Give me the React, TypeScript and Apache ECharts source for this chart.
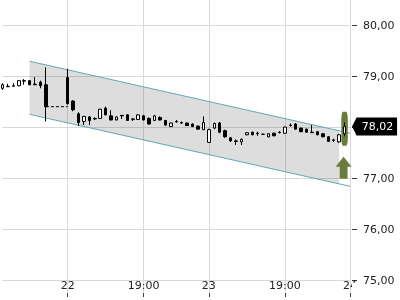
import React, { useEffect, useRef } from 'react';
import * as echarts from 'echarts';

// ---- data ----
const slotCount = 65;
const categories: string[] = Array.from({ length: slotCount }, (_, i) => String(i));
const xTickIndex = [12, 26, 38, 52, 64];
const xTickLabels = ['22', '19:00', '23', '19:00', '24'];

const candleIndex = [0, 1, 2, 3, 4, 5, 6, 7, 8, 12, 13, 14, 15, 16, 17, 18, 19, 20, 21, 22, 23, 24, 25, 26, 27, 28, 29, 30, 31, 32, 33, 34, 35, 36, 37, 38, 39, 40, 41, 42, 43, 44, 45, 46, 47, 48, 49, 50, 51, 52, 53, 54, 55, 56, 57, 58, 59, 60, 61, 62, 63];
const opens = [78.77, 78.80, 78.81, 78.82, 78.91, 78.92, 78.85, 78.89, 78.84, 78.98, 78.52, 78.27, 78.12, 78.21, 78.17, 78.18, 78.38, 78.23, 78.15, 78.24, 78.25, 78.16, 78.16, 78.23, 78.18, 78.14, 78.20, 78.14, 78.02, 78.11, 78.09, 78.09, 78.07, 78.03, 77.96, 77.71, 77.99, 78.09, 77.94, 77.80, 77.74, 77.72, 77.86, 77.91, 77.88, 77.87, 77.82, 77.89, 77.90, 77.89, 78.04, 78.07, 77.99, 77.97, 77.91, 77.92, 77.88, 77.82, 77.75, 77.72, 77.88];
const closes = [78.84, 78.81, 78.82, 78.92, 78.92, 78.84, 78.84, 78.82, 78.41, 78.47, 78.35, 78.10, 78.22, 78.14, 78.18, 78.36, 78.25, 78.15, 78.21, 78.23, 78.14, 78.17, 78.25, 78.15, 78.07, 78.23, 78.15, 78.05, 78.09, 78.12, 78.10, 78.04, 78.02, 77.97, 78.10, 77.96, 78.08, 77.91, 77.82, 77.74, 77.73, 77.77, 77.90, 77.86, 77.89, 77.87, 77.88, 77.84, 77.91, 78.01, 78.05, 77.97, 77.92, 77.91, 77.90, 77.86, 77.82, 77.73, 77.76, 77.86, 78.02];
const lows = [78.74, 78.80, 78.81, 78.81, 78.84, 78.83, 78.83, 78.77, 78.12, 78.45, 78.32, 78.03, 78.05, 78.05, 78.15, 78.17, 78.24, 78.14, 78.14, 78.17, 78.13, 78.13, 78.15, 78.14, 78.06, 78.13, 78.14, 78.03, 78.01, 78.10, 78.07, 78.03, 78.01, 77.96, 77.95, 77.70, 77.97, 77.89, 77.80, 77.72, 77.66, 77.66, 77.85, 77.85, 77.84, 77.86, 77.81, 77.83, 77.89, 77.88, 78.02, 77.96, 77.91, 77.90, 77.90, 77.85, 77.81, 77.72, 77.72, 77.70, 77.83];
const highs = [78.87, 78.86, 78.87, 78.93, 78.95, 78.93, 78.99, 78.92, 79.18, 79.15, 78.54, 78.30, 78.23, 78.23, 78.20, 78.37, 78.41, 78.34, 78.22, 78.25, 78.26, 78.19, 78.26, 78.25, 78.20, 78.25, 78.22, 78.15, 78.10, 78.15, 78.12, 78.10, 78.08, 78.04, 78.22, 77.98, 78.10, 78.11, 77.96, 77.82, 77.77, 77.79, 77.91, 77.92, 77.92, 77.88, 77.89, 77.90, 77.93, 78.02, 78.08, 78.09, 78.00, 77.98, 78.05, 77.93, 77.89, 77.83, 77.78, 77.88, 78.10];

// previous close gap line
const gapLineIndex = [8, 12];
const gapLineValue = 78.41;

// trend channel: [startIndex, upperStart, lowerStart, endIndex, upperEnd, lowerEnd, fillEndIndex]
const channelStart = { index: 5, upper: 79.30, lower: 78.26 };
const channelEnd = { index: 64, upper: 77.89, lower: 76.85 };
const channelFillEndIndex = 62;

// signal markers on the last candle
const lastIndex = 63;
const lastPrice = 78.02;
const highlightCenter = 77.976;
const arrowCenter = 77.216;

const yMin = 74.76;
const yMax = 80.5;

const fontFamily = 'DejaVu Sans';
const textColor = '#222';
const gridColor = '#d9d9d9';
const green = '#6b7b3b';

const fmtPrice = (v: number) => v.toFixed(2).replace('.', ',');

export default function App() {
  const ref = useRef<HTMLDivElement>(null);
  useEffect(() => {
    const chart = echarts.init(ref.current!, null, { renderer: 'svg' });
    const tickSet = new Set(xTickIndex);
    const labelMap: Record<number, string> = {};
    xTickIndex.forEach((k, i) => (labelMap[k] = xTickLabels[i]));
    const candleData = candleIndex.map((k, i) => [k, opens[i], closes[i], lows[i], highs[i]]);

    const option: any = {
      animation: false,
      grid: { left: 2.5, right: 50, top: 0, bottom: 7, containLabel: false },
      xAxis: {
        type: 'category',
        data: categories,
        boundaryGap: false,
        axisLine: { show: false },
        axisTick: {
          show: true,
          length: 4,
          interval: (i: number) => tickSet.has(i),
          lineStyle: { color: '#444' },
        },
        axisLabel: {
          inside: true,
          margin: 2,
          interval: (i: number) => tickSet.has(i),
          formatter: (v: string) => labelMap[Number(v)] ?? '',
          color: textColor,
          fontSize: 11,
          fontFamily,
        },
        splitLine: {
          show: true,
          interval: (i: number) => tickSet.has(i),
          lineStyle: { color: gridColor, width: 1 },
        },
      },
      yAxis: {
        type: 'value',
        position: 'right',
        min: yMin,
        max: yMax,
        offset: 2,
        axisLine: { show: false },
        axisTick: { show: true, length: 5, lineStyle: { color: '#333' } },
        axisLabel: {
          margin: 11,
          showMinLabel: false,
          showMaxLabel: false,
          formatter: (v: number) => (Math.abs(v - Math.round(v)) < 1e-6 ? fmtPrice(v) : ''),
          color: textColor,
          fontSize: 11,
          fontFamily,
        },
        splitLine: {
          show: true,
          showMinLine: false,
          showMaxLine: false,
          lineStyle: { color: gridColor, width: 1 },
        },
      },
      graphic: [
        {
          type: 'rect',
          z: 50,
          shape: { x: 352, y: 282.5, width: 10, height: 12 },
          style: { fill: '#fff' },
        },
      ],
      series: [
        {
          type: 'custom',
          z: 1,
          silent: true,
          data: [[channelStart.index, channelStart.upper, channelStart.lower, channelEnd.index, channelEnd.upper, channelEnd.lower, channelFillEndIndex]],
          encode: { x: [0, 3, 6], y: [1, 2, 4, 5] },
          renderItem: (params: any, api: any) => {
            const a = api.coord([api.value(0), api.value(1)]);
            const b = api.coord([api.value(3), api.value(4)]);
            const c = api.coord([api.value(3), api.value(5)]);
            const d = api.coord([api.value(0), api.value(2)]);
            const fe = api.coord([api.value(6), api.value(1)])[0];
            const t = (fe - a[0]) / (b[0] - a[0]);
            const bu = [a[0] + t * (b[0] - a[0]), a[1] + t * (b[1] - a[1])];
            const cl = [d[0] + t * (c[0] - d[0]), d[1] + t * (c[1] - d[1])];
            return {
              type: 'group',
              children: [
                { type: 'polygon', shape: { points: [a, bu, cl, d] }, style: { fill: 'rgba(0,0,0,0.135)' } },
                { type: 'line', shape: { x1: a[0], y1: a[1], x2: b[0], y2: b[1] }, style: { stroke: '#5fa9b0', lineWidth: 1 } },
                { type: 'line', shape: { x1: d[0], y1: d[1], x2: c[0], y2: c[1] }, style: { stroke: '#5fa9b0', lineWidth: 1 } },
              ],
            };
          },
        },
        {
          type: 'line',
          z: 2,
          silent: true,
          symbol: 'none',
          data: gapLineIndex.map((k) => [k, gapLineValue]),
          lineStyle: { color: '#000', width: 1, type: [3, 2] },
        },
        {
          type: 'scatter',
          z: 3,
          silent: true,
          data: [[lastIndex, highlightCenter]],
          symbol: 'roundRect',
          symbolSize: [6.5, 34],
          itemStyle: { color: green, opacity: 1 },
        },
        {
          type: 'scatter',
          z: 3,
          silent: true,
          data: [[lastIndex, arrowCenter]],
          symbol: 'path://M8,0 L16,10 L12,10 L12,22 L4,22 L4,10 L0,10 Z',
          symbolSize: [16, 22],
          symbolKeepAspect: false,
          symbolOffset: [-1, 0],
          itemStyle: { color: green, opacity: 1 },
        },
        {
          type: 'candlestick',
          z: 4,
          clip: false,
          barWidth: 3,
          data: candleData,
          encode: { x: 0, y: [1, 2, 3, 4] },
          itemStyle: {
            color: '#fff',
            color0: '#000',
            borderColor: '#000',
            borderColor0: '#000',
            borderWidth: 1,
          },
          markPoint: {
            silent: true,
            symbol: 'path://M0,9 L4.5,0 L45,0 L45,18 L4.5,18 Z',
            symbolSize: [45, 18],
            symbolKeepAspect: false,
            symbolOffset: [30, 0],
            itemStyle: { color: '#000' },
            label: {
              show: true,
              position: 'inside',
              offset: [3, 0],
              formatter: () => fmtPrice(lastPrice),
              color: '#fff',
              fontSize: 11,
              fontFamily,
            },
            data: [{ coord: [lastIndex, lastPrice], value: lastPrice }],
          },
        },
      ],
    };
    chart.setOption(option);
    return () => chart.dispose();
  }, []);
  return <div ref={ref} style={{ position: 'fixed', left: 0, top: 0, width: 400, height: 300 }} />;
}
